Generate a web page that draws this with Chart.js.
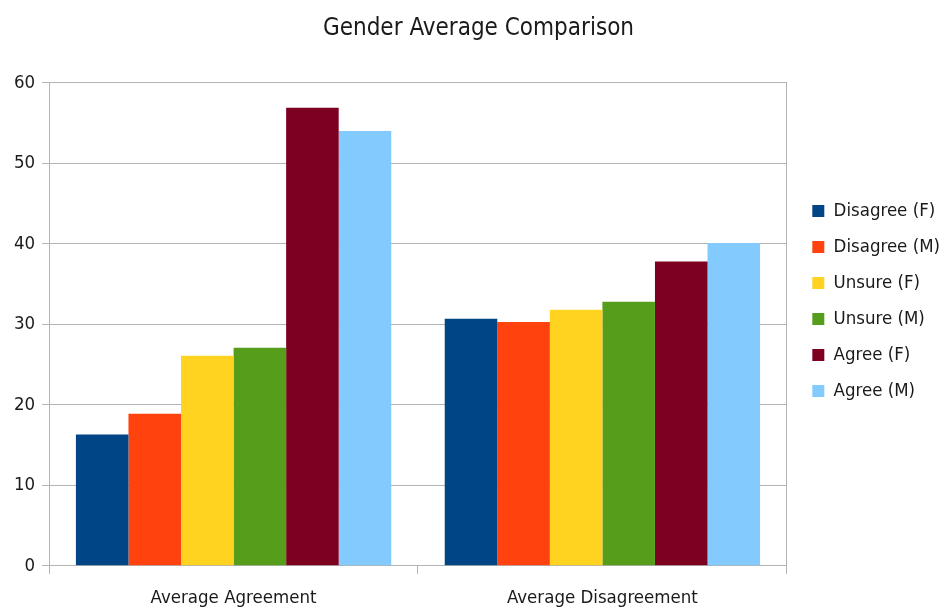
<!DOCTYPE html>
<html lang="en">
<head>
  <meta charset="UTF-8" />
  <title>Gender Average Comparison</title>
  <script src="https://cdn.jsdelivr.net/npm/chart.js"></script>
  <style>
    html, body { margin: 0; padding: 0; background: #fff; overflow: hidden; }
    #wrap { width: 945px; height: 609px; }
  </style>
</head>
<body>
  <div id="wrap"><canvas id="genderChart"></canvas></div>

  <script>
    const FONT = "'Liberation Sans Narrow', 'DejaVu Sans Condensed', 'Liberation Sans', sans-serif";

    const categories = ['Average Agreement', 'Average Disagreement'];
    const seriesNames = ['Disagree (F)', 'Disagree (M)', 'Unsure (F)', 'Unsure (M)', 'Agree (F)', 'Agree (M)'];
    const seriesColors = ['#004586', '#ff420e', '#ffd320', '#579d1c', '#7e0021', '#83caff'];

    // one value per category, in the order of the categories array
    const disagreeF = [16.3, 30.7];
    const disagreeM = [18.9, 30.3];
    const unsureF = [26.1, 31.8];
    const unsureM = [27.1, 32.8];
    const agreeF = [56.9, 37.8];
    const agreeM = [54.0, 40.1];

    const yTicks = [0, 10, 20, 30, 40, 50, 60];

    const seriesValues = [disagreeF, disagreeM, unsureF, unsureM, agreeF, agreeM];
    const gridColor = '#b3b3b3';

    Chart.defaults.font.family = FONT;
    Chart.defaults.color = '#1a1a1a';

    new Chart(document.getElementById('genderChart'), {
      type: 'bar',
      data: {
        labels: categories,
        datasets: seriesNames.map((name, i) => ({
          label: name,
          data: seriesValues[i],
          backgroundColor: seriesColors[i],
          borderWidth: 0,
          barPercentage: 1,
          categoryPercentage: 0.855
        }))
      },
      options: {
        responsive: true,
        maintainAspectRatio: false,
        animation: false,
        // category labels run off the bottom edge, so the layout reaches past the canvas
        layout: { padding: { left: 7, right: -5, top: -20, bottom: -13 } },
        plugins: {
          title: {
            display: true,
            text: 'Gender Average Comparison',
            color: '#1a1a1a',
            font: { size: 24, weight: 'normal' },
            padding: { top: 34, bottom: 40 }
          },
          legend: {
            position: 'right',
            labels: {
              boxWidth: 12,
              boxHeight: 12,
              padding: 17.5,
              color: '#1a1a1a',
              font: { size: 18.5 }
            }
          },
          tooltip: { enabled: false }
        },
        scales: {
          x: {
            grid: {
              drawOnChartArea: false,
              tickLength: 8,
              color: gridColor
            },
            border: { color: gridColor },
            ticks: { padding: 13, font: { size: 18.5 } }
          },
          y: {
            min: 0,
            max: 60,
            afterBuildTicks: axis => { axis.ticks = yTicks.map(v => ({ value: v })); },
            grid: { color: gridColor, tickLength: 7 },
            border: { color: gridColor },
            ticks: { padding: 7, font: { size: 18.5 } }
          },
          yRight: {
            position: 'right',
            min: 0,
            max: 60,
            grid: { display: false },
            ticks: { display: false },
            border: { display: true, color: gridColor }
          }
        }
      }
    });
  </script>
</body>
</html>
